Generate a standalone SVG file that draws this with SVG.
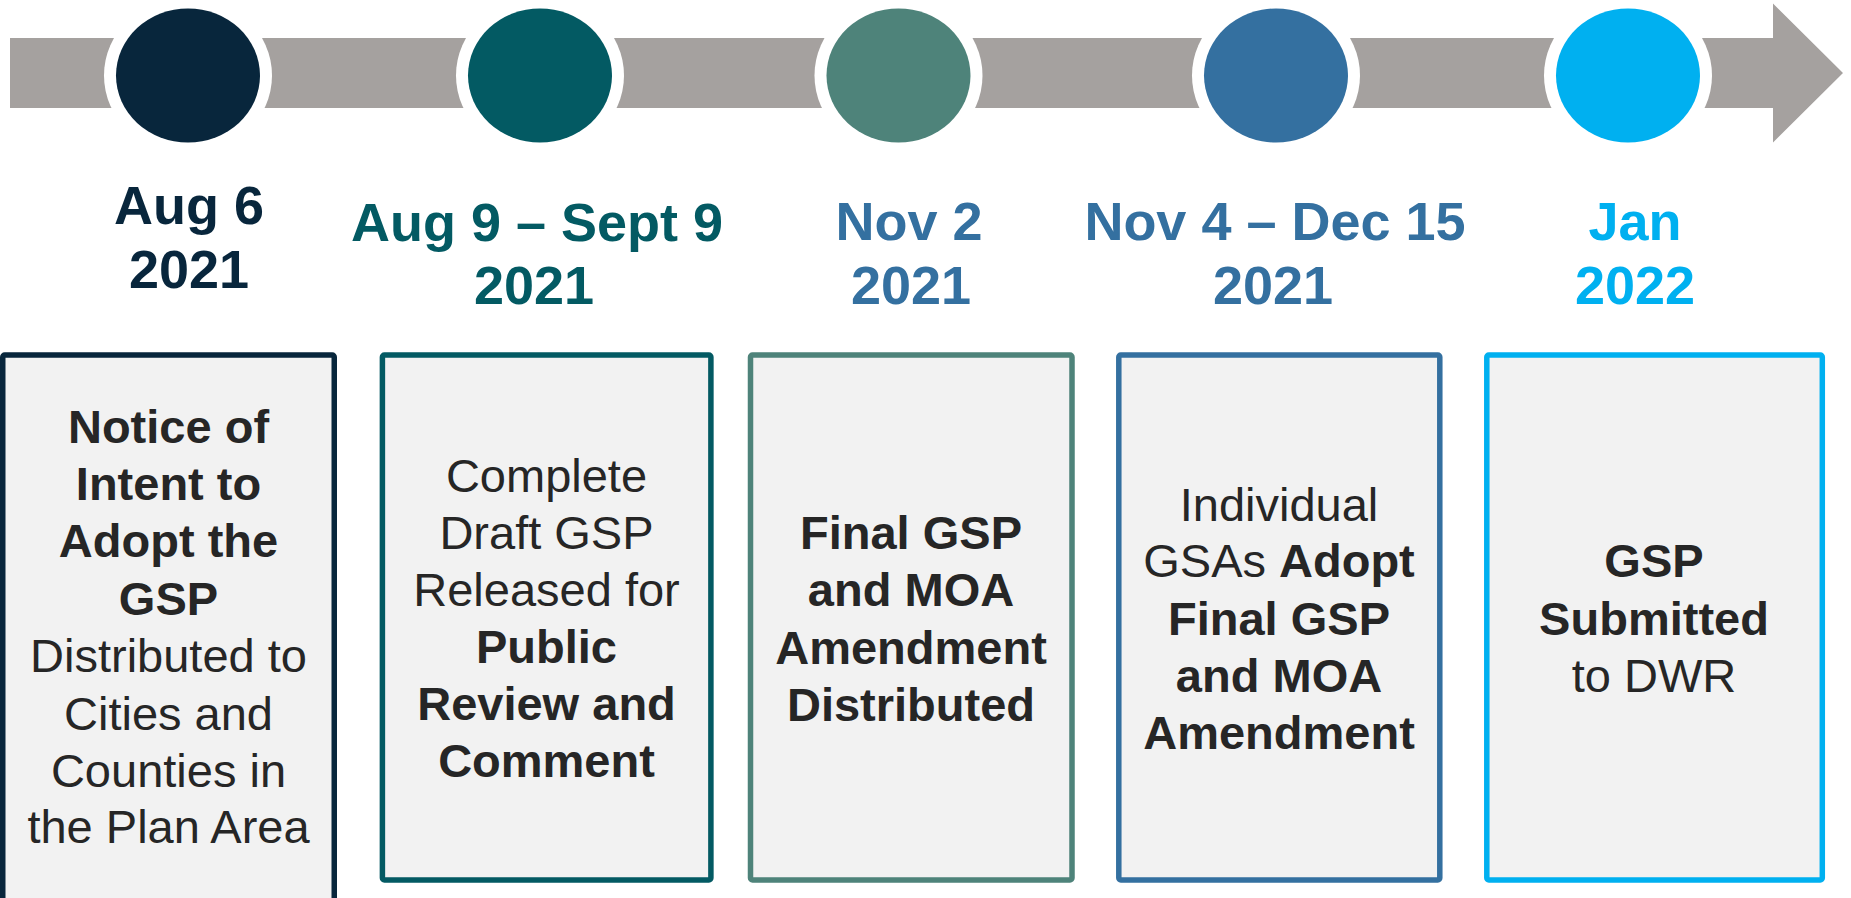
<svg xmlns="http://www.w3.org/2000/svg" width="1851" height="898" viewBox="0 0 1851 898">
<style>
  text { font-family: "Liberation Sans", Arial, sans-serif; text-anchor: middle; }
  .date { font-size: 54px; font-weight: bold; }
  .body { font-size: 47px; fill: #262626; }
  .b { font-weight: bold; }
  .box { fill: #F2F2F2; stroke-width: 5.5; }
  .ring { fill: #FFFFFF; }
</style>
<rect x="0" y="0" width="1851" height="898" fill="#FFFFFF"/>
<g id="connectors">
  <polygon points="10,38 1773,38 1773,3.5 1843,73 1773,142.5 1773,108 10,108" fill="#A5A19F"/>
</g>
<g id="node1">
  <ellipse class="ring" cx="188" cy="75.5" rx="84" ry="79"/>
  <ellipse cx="188" cy="75.5" rx="72" ry="67" fill="#08263C"/>
  <text class="date" fill="#08263C" x="189" y="224">Aug 6</text>
  <text class="date" fill="#08263C" x="189" y="288">2021</text>
  <rect class="box" x="2.75" y="355" width="331.5" height="580" rx="2" stroke="#08263C"/>
  <text class="body b" x="168.5" y="443">Notice of</text>
  <text class="body b" x="168.5" y="500">Intent to</text>
  <text class="body b" x="168.5" y="557">Adopt the</text>
  <text class="body b" x="168.5" y="614.5">GSP</text>
  <text class="body" x="168.5" y="672">Distributed to</text>
  <text class="body" x="168.5" y="729.5">Cities and</text>
  <text class="body" x="168.5" y="786.5">Counties in</text>
  <text class="body" x="168.5" y="843">the Plan Area</text>
</g>
<g id="node2">
  <ellipse class="ring" cx="540" cy="75.5" rx="84" ry="79"/>
  <ellipse cx="540" cy="75.5" rx="72" ry="67" fill="#035A63"/>
  <text class="date" fill="#035A63" x="537" y="241">Aug 9 – Sept 9</text>
  <text class="date" fill="#035A63" x="534" y="304">2021</text>
  <rect class="box" x="382.4" y="355" width="328.5" height="525" rx="2" stroke="#035A63"/>
  <text class="body" x="546.5" y="492">Complete</text>
  <text class="body" x="546.5" y="549">Draft GSP</text>
  <text class="body" x="546.5" y="606">Released for</text>
  <text class="body b" x="546.5" y="663">Public</text>
  <text class="body b" x="546.5" y="720">Review and</text>
  <text class="body b" x="546.5" y="777">Comment</text>
</g>
<g id="node3">
  <ellipse class="ring" cx="898.5" cy="75.5" rx="84" ry="79"/>
  <ellipse cx="898.5" cy="75.5" rx="72" ry="67" fill="#4E837A"/>
  <text class="date" fill="#3470A0" x="909" y="240">Nov 2</text>
  <text class="date" fill="#3470A0" x="911" y="304">2021</text>
  <rect class="box" x="750.5" y="355" width="321.5" height="525" rx="2" stroke="#4E837A"/>
  <text class="body b" x="911" y="549">Final GSP</text>
  <text class="body b" x="911" y="606">and MOA</text>
  <text class="body b" x="911" y="663.5">Amendment</text>
  <text class="body b" x="911" y="720.5">Distributed</text>
</g>
<g id="node4">
  <ellipse class="ring" cx="1276" cy="75.5" rx="84" ry="79"/>
  <ellipse cx="1276" cy="75.5" rx="72" ry="67" fill="#3470A0"/>
  <text class="date" fill="#3470A0" x="1275" y="240">Nov 4 – Dec 15</text>
  <text class="date" fill="#3470A0" x="1273" y="304">2021</text>
  <rect class="box" x="1118.8" y="355" width="321" height="525" rx="2" stroke="#3470A0"/>
  <text class="body" x="1279" y="520.5">Individual</text>
  <text class="body" x="1279" y="577">GSAs <tspan class="b">Adopt</tspan></text>
  <text class="body b" x="1279" y="634.5">Final GSP</text>
  <text class="body b" x="1279" y="692">and MOA</text>
  <text class="body b" x="1279" y="749">Amendment</text>
</g>
<g id="node5">
  <ellipse class="ring" cx="1628" cy="75.5" rx="84" ry="79"/>
  <ellipse cx="1628" cy="75.5" rx="72" ry="67" fill="#00B0F0"/>
  <text class="date" fill="#00B0F0" x="1635" y="240">Jan</text>
  <text class="date" fill="#00B0F0" x="1635" y="304">2022</text>
  <rect class="box" x="1486.8" y="355" width="335.5" height="525" rx="2" stroke="#00B0F0"/>
  <text class="body b" x="1654" y="576.5">GSP</text>
  <text class="body b" x="1654" y="634.5">Submitted</text>
  <text class="body" x="1654" y="692">to DWR</text>
</g>
</svg>
